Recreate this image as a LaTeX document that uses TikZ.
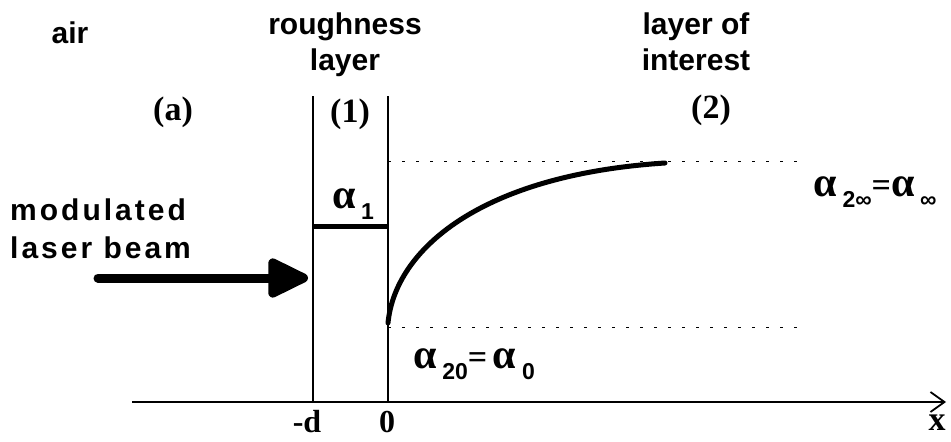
\documentclass[tikz,border=0pt]{standalone}
\usepackage{fontspec}
\setmainfont{Liberation Serif}
\setsansfont{Liberation Sans}
\usetikzlibrary{arrows.meta,calc}
\newcommand\alf{{\fontsize{42}{42}\selectfont α}}
\newcommand\lowidx[1]{\raisebox{-0.32em}{\fontsize{23}{23}\selectfont\sffamily #1}}
\tikzset{
  wordlbl/.style={font=\sffamily\bfseries\fontsize{30}{36}\selectfont, align=center, inner sep=0pt},
  zonelbl/.style={font=\rmfamily\bfseries\fontsize{34}{36}\selectfont, inner sep=0pt},
  coeflbl/.style={font=\rmfamily\bfseries\fontsize{34}{36}\selectfont, inner sep=0pt},
  wall/.style={line width=1.6},
  guide/.style={line width=1, dash pattern=on 3 off 11},
}

\begin{document}
\begin{tikzpicture}[x=1pt,y=-1pt]
\useasboundingbox (0,0) rectangle (951,442);
% pareti dello strato rugoso (x=-d e x=0)
\foreach \xw/\nm in {313/wd, 388/wz}{
  \coordinate (\nm top) at (\xw,96);
  \coordinate (\nm bot) at (\xw,402);
  \draw[wall] (\nm top) -- (\nm bot);
}
% asse x
\coordinate (xstart) at (132,402);
\coordinate (xend) at (946,402);
\draw[line width=1.8, -{Straight Barb[length=14,width=20]}] (xstart) -- (xend);
\node[zonelbl] (xlab) at (937,423) {x};
\node[zonelbl, font=\rmfamily\bfseries\fontsize{32}{34}\selectfont] (dlab) at (307,422) {-d};
\node[zonelbl, font=\rmfamily\bfseries\fontsize{32}{34}\selectfont] (zlab) at (387,422) {0};
% intestazioni
\node[wordlbl] (air) at (70,33) {air};
\node[wordlbl] (rough) at (345,45) {roughness\\layer};
\node[wordlbl] (interest) at (696,42) {layer of\\interest};
\foreach \xz/\yz/\nm/\lab in {173/112/za/(a), 350/114/zone1/(1), 711/110/zone2/(2)}{
  \node[zonelbl] (\nm) at (\xz,\yz) {\lab};
}
% alpha_1 costante nello strato (1)
\coordinate (a1L) at (313,226);
\coordinate (a1R) at (388,226);
\draw[line width=5] (a1L) -- (a1R);
\node[coeflbl] (a1) at (353,204) {\alf\,\lowidx{1}};
% linee di riferimento punteggiate
\foreach \yg/\nm in {161/ginf, 327/gzero}{
  \coordinate (\nm L) at (388,\yg);
  \coordinate (\nm R) at (797,\yg);
  \draw[guide] (\nm L) -- (\nm R);
}
% profilo alpha_2(x)
\coordinate (c0) at (388,323);
\coordinate (c1) at (665,163);
\draw[line width=5, line cap=round] (c0) .. controls (395,250) and (480,175) .. (c1);
\node[coeflbl] (a20) at (474,364) {\alf\,\lowidx{20}=\,\alf\,\lowidx{0}};
\node[coeflbl] (ainf) at (875,192) {\alf\,\lowidx{2∞}=\alf\,\lowidx{∞}};
% fascio laser
\node[wordlbl, align=left, anchor=west, font=\sffamily\bfseries\fontsize{30}{38}\selectfont\addfontfeatures{LetterSpace=10}] (beam) at (10,229) {modulated\\laser beam};
\coordinate (b0) at (98,278);
\coordinate (b1) at (308,278);
\draw[line width=9, line cap=round, -{Triangle[length=46,width=42,round]}] (b0) -- (b1);
\end{tikzpicture}
\end{document}
